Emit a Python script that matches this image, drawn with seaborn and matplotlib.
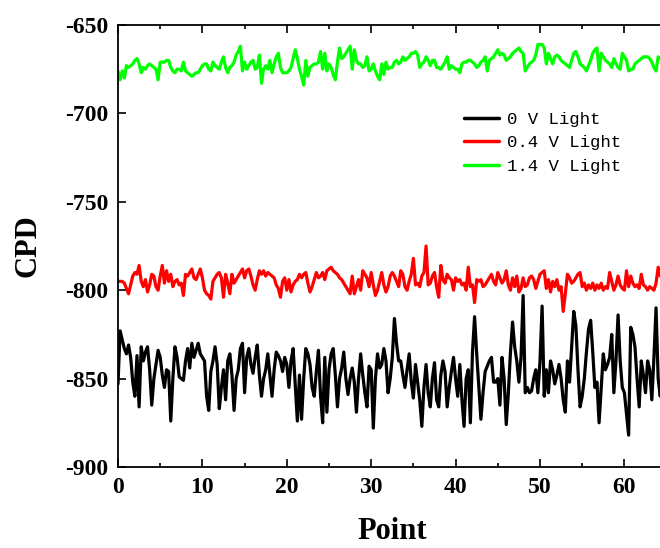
import numpy as np
import pandas as pd
import matplotlib
matplotlib.use("Agg")
import matplotlib.pyplot as plt
import seaborn as sns
from matplotlib.ticker import MultipleLocator

series_names = ["0 V Light", "0.4 V Light", "1.4 V Light"]
series_colors = ["#000000", "#FF0000", "#00FF00"]
x_step = 0.25

cpd_0v = [
    -853, -823, -828, -833, -836, -831, -838, -852, -860, -837, -866, -832,
    -840, -835, -832, -845, -865, -850, -842, -834, -838, -848, -855, -845,
    -846, -874, -850, -832, -838, -849, -850, -851, -840, -833, -844, -830,
    -838, -834, -830, -836, -838, -840, -860, -868, -846, -840, -832, -842,
    -867, -855, -845, -862, -840, -836, -848, -868, -850, -845, -833, -830,
    -858, -838, -833, -842, -847, -838, -831, -848, -860, -850, -845, -836,
    -848, -860, -845, -835, -837, -840, -846, -838, -842, -855, -840, -833,
    -853, -874, -848, -873, -850, -833, -836, -842, -855, -860, -846, -834,
    -860, -875, -838, -869, -845, -836, -833, -848, -866, -850, -844, -835,
    -850, -859, -850, -844, -852, -869, -850, -836, -848, -858, -866, -843,
    -845, -878, -850, -836, -844, -842, -833, -840, -858, -850, -838, -816,
    -830, -840, -840, -848, -855, -845, -836, -852, -861, -842, -852, -862,
    -877, -855, -842, -858, -866, -850, -841, -862, -866, -848, -840, -846,
    -866, -855, -846, -838, -850, -860, -842, -862, -877, -850, -845, -875,
    -835, -815, -836, -855, -873, -858, -846, -843, -840, -838, -852, -852,
    -850, -865, -838, -850, -876, -858, -835, -818, -832, -840, -852, -838,
    -803, -858, -855, -858, -857, -850, -845, -858, -840, -809, -860, -845,
    -858, -840, -845, -853, -848, -842, -850, -862, -869, -840, -852, -832,
    -812, -820, -845, -866, -860, -850, -835, -822, -817, -835, -855, -852,
    -875, -855, -836, -845, -842, -838, -825, -858, -840, -814, -840, -855,
    -858, -870, -882, -821, -825, -832, -850, -866, -840, -848, -858, -840,
    -845, -862, -838, -810, -850, -860, -838,
]

cpd_04v = [
    -795, -795, -795, -796, -799, -802, -797, -792, -790, -791, -786, -795,
    -798, -794, -801, -797, -791, -792, -798, -800, -792, -786, -796, -789,
    -795, -791, -798, -795, -794, -797, -796, -803, -791, -792, -790, -788,
    -793, -794, -791, -788, -793, -800, -802, -803, -805, -795, -793, -791,
    -790, -793, -804, -791, -796, -802, -791, -796, -794, -792, -790, -788,
    -793, -789, -788, -792, -797, -800, -794, -789, -791, -789, -792, -790,
    -791, -792, -793, -797, -799, -804, -795, -793, -800, -794, -801, -797,
    -795, -794, -791, -793, -791, -790, -796, -801, -798, -794, -790, -793,
    -792, -790, -794, -789, -788, -787, -789, -790, -791, -793, -794, -796,
    -798, -800, -802, -792, -802, -798, -794, -800, -789, -791, -793, -798,
    -790, -797, -803, -800, -795, -790, -797, -801, -798, -792, -790, -792,
    -795, -798, -789, -791, -798, -800, -795, -791, -782, -797, -796, -798,
    -792, -790, -775, -797, -796, -792, -790, -798, -804, -786, -794, -796,
    -791, -793, -794, -800, -793, -795, -794, -797, -796, -800, -787, -798,
    -797, -807, -794, -795, -794, -798, -797, -795, -793, -791, -795, -797,
    -790, -793, -796, -794, -789, -797, -800, -793, -798, -792, -801, -799,
    -793, -798, -797, -793, -792, -794, -799, -795, -791, -790, -789, -799,
    -794, -801, -795, -798, -794, -800, -798, -812, -802, -791, -793, -796,
    -795, -793, -791, -790, -798, -796, -800, -797, -799, -796, -800, -797,
    -799, -796, -800, -798, -799, -790, -795, -800, -797, -792, -797, -799,
    -800, -789, -798, -792, -796, -798, -797, -799, -791, -797, -798, -800,
    -798, -799, -800, -796, -787, -792, -790,
]

cpd_14v = [
    -676, -681, -676, -680, -673, -674, -673, -672, -670, -669, -672, -677,
    -674, -675, -673, -672, -673, -674, -675, -681, -671, -671, -671, -670,
    -670, -674, -676, -677, -675, -675, -676, -671, -676, -677, -678, -679,
    -678, -677, -677, -675, -673, -672, -672, -675, -676, -671, -673, -674,
    -675, -671, -668, -674, -677, -674, -673, -671, -667, -665, -662, -676,
    -671, -675, -673, -671, -670, -675, -674, -667, -683, -675, -673, -675,
    -670, -677, -672, -668, -666, -674, -677, -677, -677, -676, -674, -669,
    -664, -669, -675, -679, -684, -670, -679, -674, -673, -672, -672, -671,
    -665, -675, -666, -676, -672, -674, -678, -681, -671, -663, -669, -668,
    -666, -664, -662, -675, -664, -670, -672, -672, -674, -673, -668, -676,
    -675, -672, -676, -679, -681, -672, -678, -671, -675, -674, -674, -671,
    -670, -672, -671, -668, -670, -669, -668, -666, -666, -665, -667, -674,
    -672, -671, -668, -670, -673, -670, -670, -674, -674, -675, -673, -671,
    -668, -675, -673, -674, -675, -675, -677, -672, -671, -671, -670, -670,
    -671, -672, -674, -673, -671, -670, -668, -676, -670, -669, -668, -666,
    -664, -667, -666, -667, -670, -669, -668, -666, -665, -664, -663, -665,
    -666, -676, -674, -672, -671, -670, -667, -661, -661, -661, -663, -672,
    -666, -669, -672, -668, -667, -668, -670, -671, -672, -673, -674, -670,
    -666, -665, -668, -672, -673, -674, -676, -673, -670, -666, -664, -663,
    -676, -666, -668, -670, -671, -672, -674, -669, -672, -674, -675, -666,
    -668, -670, -676, -675, -675, -672, -671, -670, -669, -668, -668, -668,
    -669, -671, -674, -676, -668, -669, -670,
]

x_ticks = [0, 10, 20, 30, 40, 50, 60]
y_ticks = [-900, -850, -800, -750, -700, -650]

frames = []
for name, vals in zip(series_names, [cpd_0v, cpd_04v, cpd_14v]):
    frames.append(pd.DataFrame({"Point": np.arange(len(vals)) * x_step,
                                "CPD": vals, "Series": name}))
df = pd.concat(frames, ignore_index=True)

sns.set_theme(style="ticks")
plt.rcParams["font.family"] = ["Liberation Serif", "DejaVu Serif"]
plt.rcParams["axes.unicode_minus"] = False
plt.rcParams["text.color"] = "black"
plt.rcParams["axes.labelcolor"] = "black"
plt.rcParams["xtick.color"] = "black"
plt.rcParams["ytick.color"] = "black"

fig = plt.figure(figsize=(6.6, 5.48), dpi=100)
ax_left = 118 / 660
ax_right = (118 + 65 * 8.44) / 660
ax_bottom = (548 - 467) / 548
ax_top = (548 - 25) / 548
ax = fig.add_axes([ax_left, ax_bottom, ax_right - ax_left, ax_top - ax_bottom])

sns.lineplot(data=df, x="Point", y="CPD", hue="Series", hue_order=series_names,
             palette=dict(zip(series_names, series_colors)), linewidth=2.3,
             ax=ax, legend=True)

ax.set_xlim(0, 65)
ax.set_ylim(-900, -650)
ax.set_xticks(x_ticks)
ax.set_yticks(y_ticks)
ax.xaxis.set_minor_locator(MultipleLocator(5))
ax.tick_params(which="both", direction="in", top=True, right=False,
               width=1.2, color="black", labelcolor="black")
ax.tick_params(which="major", length=6, labelsize=17, pad=7)
ax.tick_params(which="minor", length=3)
for lbl in ax.get_xticklabels() + ax.get_yticklabels():
    lbl.set_fontweight("bold")
for side in ["left", "bottom", "top"]:
    ax.spines[side].set_linewidth(1.3)
    ax.spines[side].set_color("black")
ax.spines["right"].set_visible(False)

ax.set_xlabel("Point", fontsize=22, fontweight="bold", labelpad=14, color="black")
ax.set_ylabel("CPD", fontsize=22, fontweight="bold", labelpad=16, color="black")

leg = ax.legend(loc="upper left", bbox_to_anchor=(0.618, 0.82), frameon=False,
                prop={"family": "Liberation Mono", "size": 12.5},
                handlelength=2.0, handletextpad=0.5, labelspacing=0.5,
                borderaxespad=0)
for line in leg.get_lines():
    line.set_linewidth(2.5)
for t in leg.get_texts():
    t.set_color("black")

fig.savefig("out.png", dpi=100)
